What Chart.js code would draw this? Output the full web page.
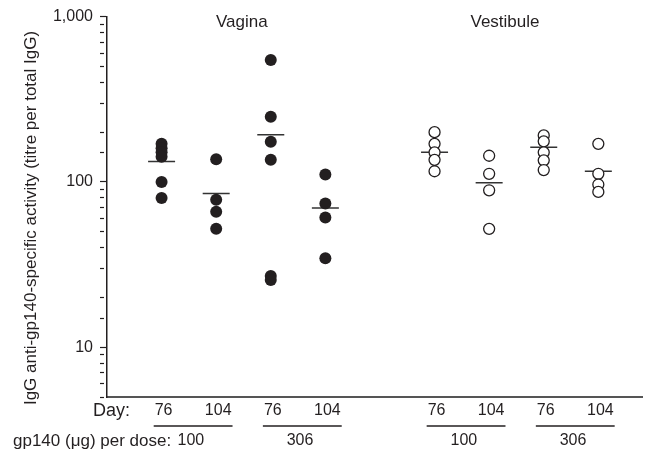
<!DOCTYPE html>
<html>
<head>
<meta charset="utf-8">
<script src="https://cdn.jsdelivr.net/npm/chart.js@4"></script>
<style>
  body { margin: 0; background: #fff; }
  canvas { display: block; }
</style>
</head>
<body>
<canvas id="myChart" width="645" height="454"></canvas>
<script>
// values (titre per total IgG)
const vaginaD76Dose100 = [170, 160, 151, 142, 100, 80];
const vaginaD104Dose100 = [137, 78, 66, 52];
const vaginaD76Dose306 = [547, 248, 175, 136, 27, 25.5];
const vaginaD104Dose306 = [111, 74, 61, 34.5];
const vestD76Dose100 = [200, 170, 151, 136, 116];
const vestD104Dose100 = [144, 112, 89, 52];
const vestD76Dose306 = [191, 176, 151, 135, 118];
const vestD104Dose306 = [170, 112, 96.5, 87];

const groupX = [1, 2, 3, 4, 6, 7, 8, 9];
const groupMeans = [133, 85, 193, 69.5, 151, 99, 162, 116];
const dayLabels = ['76', '104', '76', '104', '76', '104', '76', '104'];
const doseLabels = ['100', '306', '100', '306'];
const siteLabels = ['Vagina', 'Vestibule'];
const siteX = [2.47, 7.29];
const yTickLabels = [10, 100, 1000];

const INK = '#231f20';
const FONT = '"Liberation Sans", Arial, sans-serif';

const filledGroups = [vaginaD76Dose100, vaginaD104Dose100, vaginaD76Dose306, vaginaD104Dose306];
const openGroups = [vestD76Dose100, vestD104Dose100, vestD76Dose306, vestD104Dose306];

function toPoints(groups, xs) {
  var pts = [];
  groups.forEach(function(vals, i) {
    vals.forEach(function(v) { pts.push({x: xs[i], y: v}); });
  });
  return pts;
}

// text under the axis, site names and the y title
const annotations = {
  id: 'annotations',
  afterDraw(chart) {
    const ctx = chart.ctx;
    const x = chart.scales.x;
    ctx.save();
    ctx.fillStyle = INK;
    ctx.strokeStyle = INK;
    ctx.textBaseline = 'middle';

    ctx.textAlign = 'center';
    ctx.font = '17px ' + FONT;
    siteLabels.forEach(function(s, i) {
      ctx.fillText(s, x.getPixelForValue(siteX[i]), 22);
    });

    ctx.textAlign = 'left';
    ctx.font = '18px ' + FONT;
    ctx.fillText('Day:', 93, 411);
    ctx.font = '17px ' + FONT;
    ctx.fillText('gp140 (\u03bcg) per dose:', 13, 441);

    ctx.font = '16px ' + FONT;
    ctx.textAlign = 'center';
    dayLabels.forEach(function(d, i) {
      ctx.fillText(d, x.getPixelForValue(groupX[i]) + 2, 411);
    });

    ctx.lineWidth = 1.3;
    doseLabels.forEach(function(d, i) {
      var a = x.getPixelForValue(groupX[2 * i]) + 2;
      var b = x.getPixelForValue(groupX[2 * i + 1]) + 2;
      var x1 = a - ctx.measureText(dayLabels[2 * i]).width / 2 - 1;
      var x2 = b + ctx.measureText(dayLabels[2 * i + 1]).width / 2 + 1;
      ctx.beginPath();
      ctx.moveTo(x1, 426);
      ctx.lineTo(x2, 426);
      ctx.stroke();
      ctx.fillText(d, (a + b) / 2, 441);
    });

    ctx.translate(31, 218);
    ctx.rotate(-Math.PI / 2);
    ctx.font = '17px ' + FONT;
    ctx.fillText('IgG anti-gp140-specific activity (titre per total IgG)', 0, 0);
    ctx.restore();
  }
};

const config = {
  type: 'scatter',
  data: {
    datasets: [
      {
        label: 'Vagina',
        data: toPoints(filledGroups, groupX.slice(0, 4)),
        pointStyle: 'circle',
        pointRadius: 6,
        backgroundColor: INK,
        borderWidth: 0
      },
      {
        label: 'Vestibule',
        data: toPoints(openGroups, groupX.slice(4)),
        pointStyle: 'circle',
        pointRadius: 5.5,
        backgroundColor: '#fff',
        borderColor: INK,
        borderWidth: 1.3
      },
      {
        label: 'Mean',
        data: groupX.map(function(gx, i) { return {x: gx, y: groupMeans[i]}; }),
        pointStyle: 'line',
        pointRadius: 13.5,
        borderColor: '#333',
        borderWidth: 1.5
      }
    ]
  },
  options: {
    responsive: false,
    animation: false,
    devicePixelRatio: 1,
    layout: { autoPadding: false, padding: { top: 15, right: 3, left: 0, bottom: 0 } },
    plugins: { legend: { display: false }, tooltip: { enabled: false } },
    scales: {
      x: {
        type: 'linear',
        min: 0,
        max: 9.8,
        ticks: { display: false },
        grid: { display: false },
        border: { display: true, color: '#555', width: 2 },
        afterFit: function(scale) { scale.height = 57; }
      },
      y: {
        type: 'logarithmic',
        min: 5,
        max: 1000,
        grid: {
          display: true,
          drawOnChartArea: false,
          drawTicks: true,
          tickLength: 7,
          tickColor: INK,
          tickWidth: 1.2,
          tickBorderDash: function(c) {
            return yTickLabels.includes(c.tick && c.tick.value) ? [] : [4, 20];
          }
        },
        border: { display: true, color: INK, width: 1.5 },
        ticks: {
          autoSkip: false,
          padding: 7,
          color: INK,
          font: { family: FONT, size: 16 },
          callback: function(v) {
            return yTickLabels.includes(v) ? v.toLocaleString('en-US') : '';
          }
        },
        afterFit: function(scale) { scale.width = 107; }
      }
    }
  },
  plugins: [annotations]
};

const myChart = new Chart(document.getElementById('myChart'), config);
</script>
</body>
</html>
